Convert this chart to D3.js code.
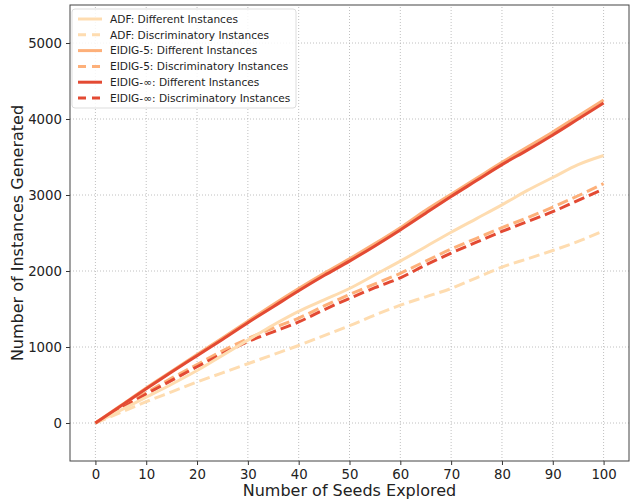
<!DOCTYPE html>
<html>
<head>
<meta charset="utf-8">
<script src="https://cdn.jsdelivr.net/npm/d3@7"></script>
<style>
  body { margin: 0; background: #fff; }
  text { font-family: "DejaVu Sans", sans-serif; fill: #222; }
</style>
</head>
<body>
<script>
var width = 630,
    height = 504;

// seeds explored (x) and instances generated per series
var seeds = [0, 5, 10, 15, 20, 25, 30, 35, 40, 45, 50, 55, 60, 65, 70, 75, 80, 85, 90, 95, 100];
var adfDiff = [0, 170, 340, 510, 690, 890, 1090, 1290, 1470, 1620, 1770, 1950, 2130, 2320, 2510, 2690, 2870, 3060, 3230, 3400, 3520];
var adfDisc = [0, 140, 280, 410, 540, 660, 780, 900, 1020, 1150, 1280, 1420, 1550, 1660, 1770, 1910, 2050, 2160, 2270, 2390, 2530];
var eid5Diff = [0, 230, 460, 680, 900, 1120, 1340, 1560, 1770, 1970, 2160, 2360, 2570, 2800, 3010, 3220, 3430, 3630, 3830, 4040, 4250];
var eid5Disc = [0, 200, 400, 590, 770, 950, 1110, 1250, 1380, 1540, 1690, 1830, 1970, 2130, 2290, 2430, 2570, 2700, 2840, 2990, 3150];
var eidInfDiff = [0, 225, 450, 670, 885, 1100, 1320, 1530, 1740, 1940, 2130, 2330, 2540, 2760, 2980, 3190, 3400, 3590, 3790, 4000, 4210];
var eidInfDisc = [0, 190, 380, 560, 740, 910, 1070, 1200, 1330, 1490, 1640, 1780, 1910, 2080, 2235, 2380, 2520, 2650, 2780, 2930, 3080];

var xTicks = [0, 10, 20, 30, 40, 50, 60, 70, 80, 90, 100];
var yTicks = [0, 1000, 2000, 3000, 4000, 5000];

var seriesNames = ["ADF: Different Instances", "ADF: Discriminatory Instances",
                   "EIDIG-5: Different Instances", "EIDIG-5: Discriminatory Instances",
                   "EIDIG-\u221e: Different Instances", "EIDIG-\u221e: Discriminatory Instances"];
var seriesValues = [adfDiff, adfDisc, eid5Diff, eid5Disc, eidInfDiff, eidInfDisc];
var seriesColors = ["#fedcb0", "#fedcb0", "#fdb07a", "#fdb07a", "#e34a33", "#e34a33"];
var seriesDashed = [false, true, false, true, false, true];

var margin = {left: 70, right: 1, top: 5, bottom: 43};

var x = d3.scaleLinear().domain([-5, 105]).range([margin.left, width - margin.right]);
var y = d3.scaleLinear().domain([-500, 5500]).range([height - margin.bottom, margin.top]);

var svg = d3.select("body").append("svg")
    .attr("width", width)
    .attr("height", height);

/* ============================ GRID ============================ */
svg.append("g").selectAll("line")
    .data(xTicks)
  .enter().append("line")
    .attr("x1", d => x(d)).attr("x2", d => x(d))
    .attr("y1", y.range()[0]).attr("y2", y.range()[1])
    .attr("stroke", "#b0b0b0").attr("stroke-width", 0.8)
    .attr("stroke-dasharray", "1,2");

svg.append("g").selectAll("line")
    .data(yTicks)
  .enter().append("line")
    .attr("y1", d => y(d)).attr("y2", d => y(d))
    .attr("x1", x.range()[0]).attr("x2", x.range()[1])
    .attr("stroke", "#b0b0b0").attr("stroke-width", 0.8)
    .attr("stroke-dasharray", "1,2");

/* ============================ LINES ============================ */
var line = d3.line()
    .x((d, i) => x(seeds[i]))
    .y(d => y(d))
    .curve(d3.curveMonotoneX);

// dashed first, solid on top
var order = [1, 3, 5, 0, 2, 4];
order.forEach(function(k) {
  svg.append("path")
      .datum(seriesValues[k])
      .attr("d", line)
      .attr("fill", "none")
      .attr("stroke", seriesColors[k])
      .attr("stroke-width", 3)
      .attr("stroke-linejoin", "round")
      .attr("stroke-dasharray", seriesDashed[k] ? "11,5" : null);
});

/* ============================ AXES ============================ */
var xAxis = svg.append("g")
    .attr("transform", "translate(0," + y.range()[0] + ")")
    .call(d3.axisBottom(x).tickValues(xTicks).tickSize(4).tickPadding(5));
var yAxis = svg.append("g")
    .attr("transform", "translate(" + x.range()[0] + ",0)")
    .call(d3.axisLeft(y).tickValues(yTicks).tickFormat(d3.format("d")).tickSize(4).tickPadding(4));

[xAxis, yAxis].forEach(function(a) {
  a.select(".domain").remove();
  a.selectAll("text").style("font-size", "13.3px").attr("fill", "#222");
  a.selectAll("line").attr("stroke", "#333");
});

svg.append("rect")
    .attr("x", x.range()[0]).attr("y", y.range()[1])
    .attr("width", x.range()[1] - x.range()[0])
    .attr("height", y.range()[0] - y.range()[1])
    .attr("fill", "none").attr("stroke", "#444").attr("stroke-width", 1);

svg.append("text")
    .attr("x", (x.range()[0] + x.range()[1]) / 2)
    .attr("y", height - 8)
    .attr("text-anchor", "middle")
    .style("font-size", "16px")
    .text("Number of Seeds Explored");

svg.append("text")
    .attr("transform", "translate(23," + (y.range()[0] + y.range()[1]) / 2 + ") rotate(-90)")
    .attr("text-anchor", "middle")
    .style("font-size", "16px")
    .text("Number of Instances Generated");

/* ============================ LEGEND ============================ */
var legend = svg.append("g").attr("transform", "translate(72,9)");
legend.append("rect")
    .attr("width", 224).attr("height", 99)
    .attr("rx", 3)
    .attr("fill", "#fff").attr("fill-opacity", 0.85)
    .attr("stroke", "#ddd");

var item = legend.selectAll(".item")
    .data(seriesNames)
  .enter().append("g")
    .attr("class", "item")
    .attr("transform", (d, i) => "translate(0," + (10 + i * 15.8) + ")");

item.append("line")
    .attr("x1", 6).attr("x2", 30)
    .attr("stroke", (d, i) => seriesColors[i])
    .attr("stroke-width", 3)
    .attr("stroke-dasharray", (d, i) => seriesDashed[i] ? "8,6" : null);

item.append("text")
    .attr("x", 38).attr("dy", "0.35em")
    .style("font-size", "10.6px")
    .text(d => d);
</script>
</body>
</html>
